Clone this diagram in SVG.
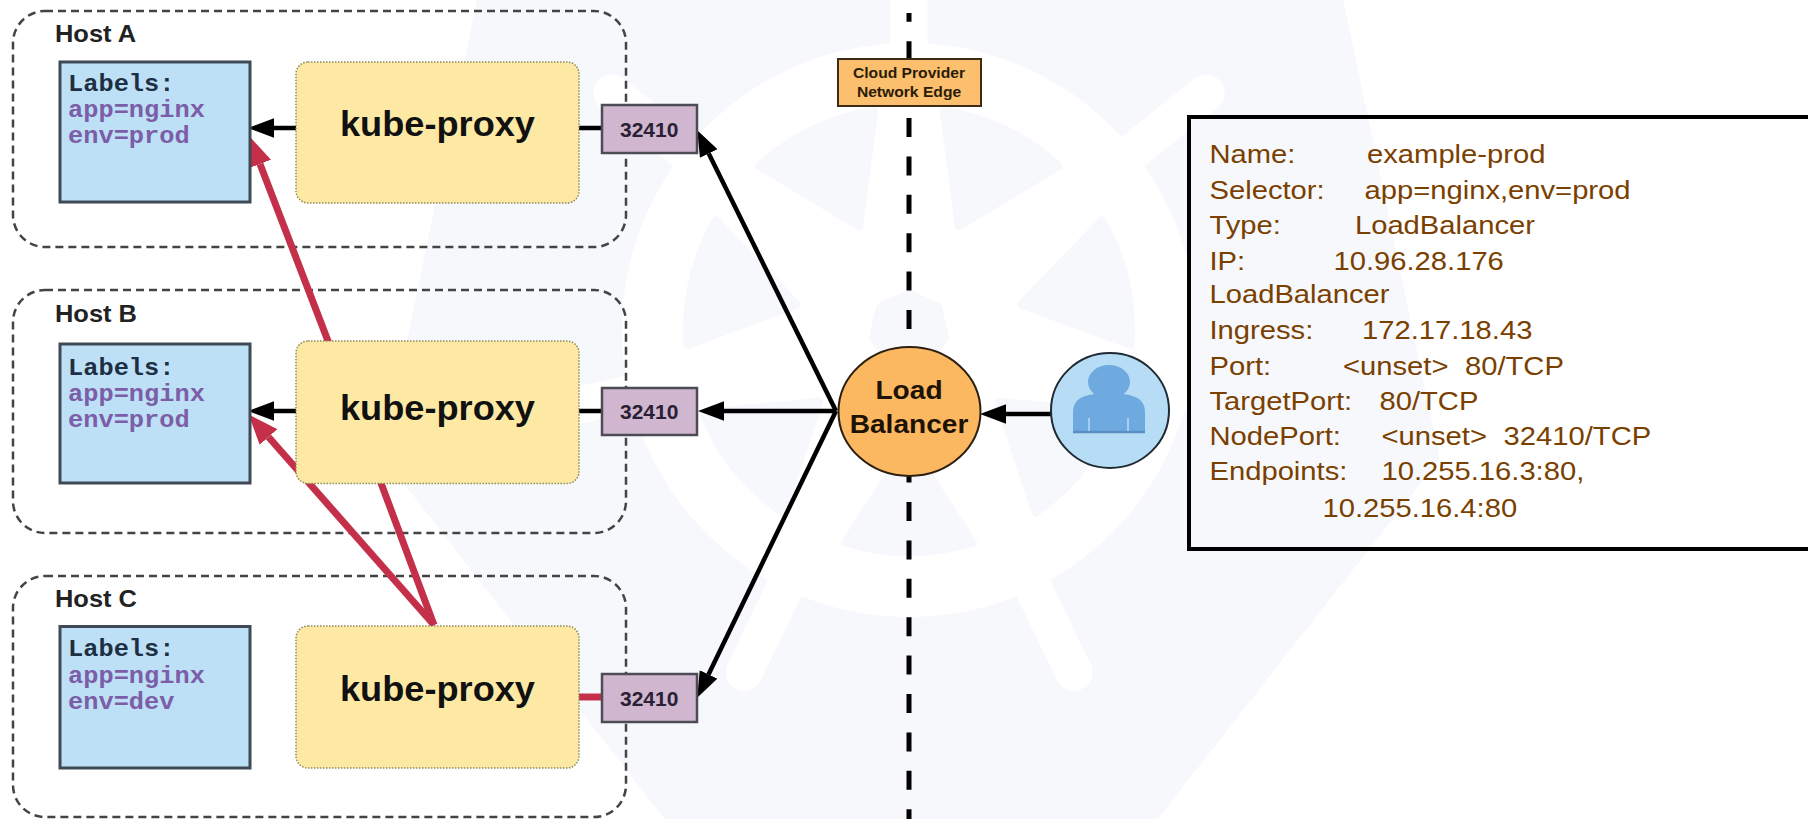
<svg xmlns="http://www.w3.org/2000/svg" xmlns:xlink="http://www.w3.org/1999/xlink" width="1808" height="819" viewBox="0 0 1808 819">
<style>
text{font-family:"Liberation Sans",Arial,sans-serif}
.wm{fill:#f7f8fc;stroke:#f7f8fc;stroke-linejoin:round}
.spoke{stroke:#fff;stroke-width:37;stroke-linecap:round}
.host{fill:none;stroke:#444;stroke-width:2.5;stroke-dasharray:8 5}
.hl{font-size:24px;font-weight:700;fill:#222}
.pod{fill:#bde0f6;stroke:#3f4a56;stroke-width:3}
.mono{font-family:"Liberation Mono",monospace;font-weight:700;font-size:23.7px}
.lk{fill:#1d2f42}.kv{fill:#7b5ea7}
.kp{fill:#fde9a4;stroke:#8d8a5a;stroke-width:1.5;stroke-dasharray:1.5 1.5}
.kt{font-size:34.7px;font-weight:700;fill:#111}
.port{fill:#d0b6cf;stroke:#4c4c55;stroke-width:2.5}
.pt{font-size:20px;font-weight:700;fill:#2a1f35}
.blk{fill:none;stroke:#000;stroke-width:4.5}
.red{fill:none;stroke:#c4304a;stroke-width:7}
.info{font-size:25.6px;fill:#7a4000}
.lb{font-size:26.5px;font-weight:700;fill:#1d1206}
.eg{font-size:14.9px;font-weight:700;fill:#2a1c08}
</style>
<defs>
<marker id="ab" markerUnits="userSpaceOnUse" markerWidth="26" markerHeight="20" viewBox="0 0 24 18" refX="0" refY="9" orient="auto"><path d="M0 0L24 9L0 18Z" fill="#000"/></marker>
<marker id="ar" markerUnits="userSpaceOnUse" markerWidth="30" markerHeight="24" viewBox="0 0 28 22" refX="0" refY="11" orient="auto"><path d="M0 0L28 11L0 22Z" fill="#c4304a"/></marker>
<clipPath id="hept"><polygon points="489,-20 1331,-20 1431,457 1139,830 683,830 392,455"/></clipPath>
<path id="wedge" class="wm" stroke-width="8" d="M943.7 110.7A222 222 0 0 1 1058.7 166.1L958.9 226.4Z"/>
</defs>
<g id="watermark">
<polygon class="wm" stroke-width="16" points="489,-20 1331,-20 1431,457 1139,830 683,830 392,455"/>
<circle cx="909" cy="330" r="287" fill="#fff"/>
<g transform="rotate(0 909 330)"><line class="spoke" x1="909" y1="330" x2="909" y2="-50"/></g>
<g transform="rotate(51.43 909 330)"><line class="spoke" x1="909" y1="330" x2="909" y2="-50"/></g>
<g transform="rotate(102.86 909 330)"><line class="spoke" x1="909" y1="330" x2="909" y2="-50"/></g>
<g transform="rotate(154.29 909 330)"><line class="spoke" x1="909" y1="330" x2="909" y2="-50"/></g>
<g transform="rotate(205.71 909 330)"><line class="spoke" x1="909" y1="330" x2="909" y2="-50"/></g>
<g transform="rotate(257.14 909 330)"><line class="spoke" x1="909" y1="330" x2="909" y2="-50"/></g>
<g transform="rotate(308.57 909 330)"><line class="spoke" x1="909" y1="330" x2="909" y2="-50"/></g>
<use href="#wedge"/>
<use href="#wedge" transform="rotate(51.43 909 330)"/>
<use href="#wedge" transform="rotate(102.86 909 330)"/>
<use href="#wedge" transform="rotate(154.29 909 330)"/>
<use href="#wedge" transform="rotate(205.71 909 330)"/>
<use href="#wedge" transform="rotate(257.14 909 330)"/>
<use href="#wedge" transform="rotate(308.57 909 330)"/>
<polygon class="wm" stroke-width="8" points="909,294 938,307 945,338 925,363 893,363 873,338 880,307"/>
<rect x="1190" y="117" width="618" height="432" fill="#f7f8fc" clip-path="url(#hept)"/>
</g>
<g id="host-a"><rect class="host" x="13" y="11" width="613" height="236" rx="32"/><text class="hl" transform="matrix(1.06 0 0 1 55 41.7)">Host A</text></g>
<g id="host-b"><rect class="host" x="13" y="290" width="613" height="243" rx="32"/><text class="hl" transform="matrix(1.06 0 0 1 55 322)">Host B</text></g>
<g id="host-c"><rect class="host" x="13" y="576" width="613" height="241" rx="32"/><text class="hl" transform="matrix(1.06 0 0 1 55 606.6)">Host C</text></g>
<g id="connectors">
<path id="edge-line" fill="none" stroke="#000" stroke-width="5" stroke-dasharray="19 19.4" stroke-dashoffset="10.2" d="M909 13V819"/>
<path class="red" d="M434 625L328 341L260 164" marker-end="url(#ar)"/>
<path class="red" d="M434 625L268.5 437" marker-end="url(#ar)"/>
<path class="red" d="M579 697H602"/>
<path class="blk" stroke-width="5" d="M296 128H274" marker-end="url(#ab)"/>
<path class="blk" d="M579 128H602"/>
<path class="blk" d="M296 411H274" marker-end="url(#ab)"/>
<path class="blk" d="M579 411H602"/>
<path class="blk" d="M836 411L708.7 153.5" marker-end="url(#ab)"/>
<path class="blk" d="M836 411H724" marker-end="url(#ab)"/>
<path class="blk" d="M836 411L708.5 674.4" marker-end="url(#ab)"/>
<path class="blk" d="M1051 414H1006" marker-end="url(#ab)"/>
</g>
<g id="pod-a"><rect class="pod" x="60" y="62" width="190" height="140"/><text class="mono lk" transform="matrix(1.07 0 0 1 68 90.7)">Labels:</text><text class="mono kv" transform="matrix(1.07 0 0 1 68 116.7)">app=nginx</text><text class="mono kv" transform="matrix(1.07 0 0 1 68 142.7)">env=prod</text></g>
<g id="pod-b"><rect class="pod" x="60" y="344" width="190" height="139"/><text class="mono lk" transform="matrix(1.07 0 0 1 68 374.5)">Labels:</text><text class="mono kv" transform="matrix(1.07 0 0 1 68 401)">app=nginx</text><text class="mono kv" transform="matrix(1.07 0 0 1 68 427)">env=prod</text></g>
<g id="pod-c"><rect class="pod" x="60" y="626.5" width="190" height="141.5"/><text class="mono lk" transform="matrix(1.07 0 0 1 68 656.4)">Labels:</text><text class="mono kv" transform="matrix(1.07 0 0 1 68 683)">app=nginx</text><text class="mono kv" transform="matrix(1.07 0 0 1 68 709)">env=dev</text></g>
<g id="proxy-a"><rect class="kp" x="296" y="62" width="283" height="141" rx="12"/><text class="kt" transform="matrix(1.043 0 0 1 340 136)">kube-proxy</text></g>
<g id="proxy-b"><rect class="kp" x="296" y="341" width="283" height="142.5" rx="12"/><text class="kt" transform="matrix(1.043 0 0 1 340 420)">kube-proxy</text></g>
<g id="proxy-c"><rect class="kp" x="296" y="626" width="283" height="142" rx="12"/><text class="kt" transform="matrix(1.043 0 0 1 340 701)">kube-proxy</text></g>
<g id="port-a"><rect class="port" x="602" y="105" width="95" height="48"/><text class="pt" transform="matrix(1.05 0 0 1 620 137)">32410</text></g>
<g id="port-b"><rect class="port" x="602" y="388" width="95" height="47"/><text class="pt" transform="matrix(1.05 0 0 1 620 419)">32410</text></g>
<g id="port-c"><rect class="port" x="602" y="674" width="95" height="48"/><text class="pt" transform="matrix(1.05 0 0 1 620 706)">32410</text></g>
<g id="edge-label"><rect x="838" y="59" width="143" height="47" fill="#fbbf6e" stroke="#3a2c18" stroke-width="2"/><text class="eg" transform="matrix(1.05 0 0 1 909 78)" text-anchor="middle">Cloud Provider</text><text class="eg" transform="matrix(1.05 0 0 1 909 96.7)" text-anchor="middle">Network Edge</text></g>
<g id="load-balancer"><ellipse cx="909.5" cy="411.5" rx="71" ry="64.5" fill="#fbb860" stroke="#2c1f10" stroke-width="2"/><text class="lb" transform="matrix(1.06 0 0 1 909 399)" text-anchor="middle">Load</text><text class="lb" transform="matrix(1.06 0 0 1 909 433)" text-anchor="middle">Balancer</text></g>
<g id="user"><ellipse cx="1110" cy="410.5" rx="59" ry="57.5" fill="#b7dcf5" stroke="#1f2a33" stroke-width="2"/><ellipse cx="1109" cy="382" rx="21" ry="17" fill="#6ea9e0"/><path d="M1073 433V412Q1073 396 1095 394H1123Q1145 396 1145 412V433Z" fill="#6ea9e0"/><path d="M1073 432H1145" stroke="#5b8fc4" stroke-width="2.5"/><path d="M1089 418V431M1128 418V431" stroke="#b7dcf5" stroke-width="1.5"/></g>
<g id="service-info">
<path d="M1808 117H1189V549H1808" fill="none" stroke="#000" stroke-width="4"/>
<text class="info" transform="matrix(1.14 0 0 1 1209.5 163)">Name:<tspan x="138.2">example-prod</tspan></text>
<text class="info" transform="matrix(1.14 0 0 1 1209.5 199)">Selector:<tspan x="136">app=nginx,env=prod</tspan></text>
<text class="info" transform="matrix(1.14 0 0 1 1209.5 234)">Type:<tspan x="127.6">LoadBalancer</tspan></text>
<text class="info" transform="matrix(1.14 0 0 1 1209.5 270)">IP:<tspan x="108.8">10.96.28.176</tspan></text>
<text class="info" transform="matrix(1.14 0 0 1 1209.5 303)">LoadBalancer</text>
<text class="info" transform="matrix(1.14 0 0 1 1209.5 339)">Ingress:<tspan x="133.8">172.17.18.43</tspan></text>
<text class="info" transform="matrix(1.14 0 0 1 1209.5 375)">Port:<tspan x="117.1">&lt;unset&gt;</tspan><tspan x="224.1">80/TCP</tspan></text>
<text class="info" transform="matrix(1.14 0 0 1 1209.5 410)">TargetPort:<tspan x="149.1">80/TCP</tspan></text>
<text class="info" transform="matrix(1.14 0 0 1 1209.5 445)">NodePort:<tspan x="150.9">&lt;unset&gt;</tspan><tspan x="258">32410/TCP</tspan></text>
<text class="info" transform="matrix(1.14 0 0 1 1209.5 480)">Endpoints:<tspan x="150.9">10.255.16.3:80,</tspan></text>
<text class="info" transform="matrix(1.14 0 0 1 1322.5 517)">10.255.16.4:80</text>
</g>
</svg>
